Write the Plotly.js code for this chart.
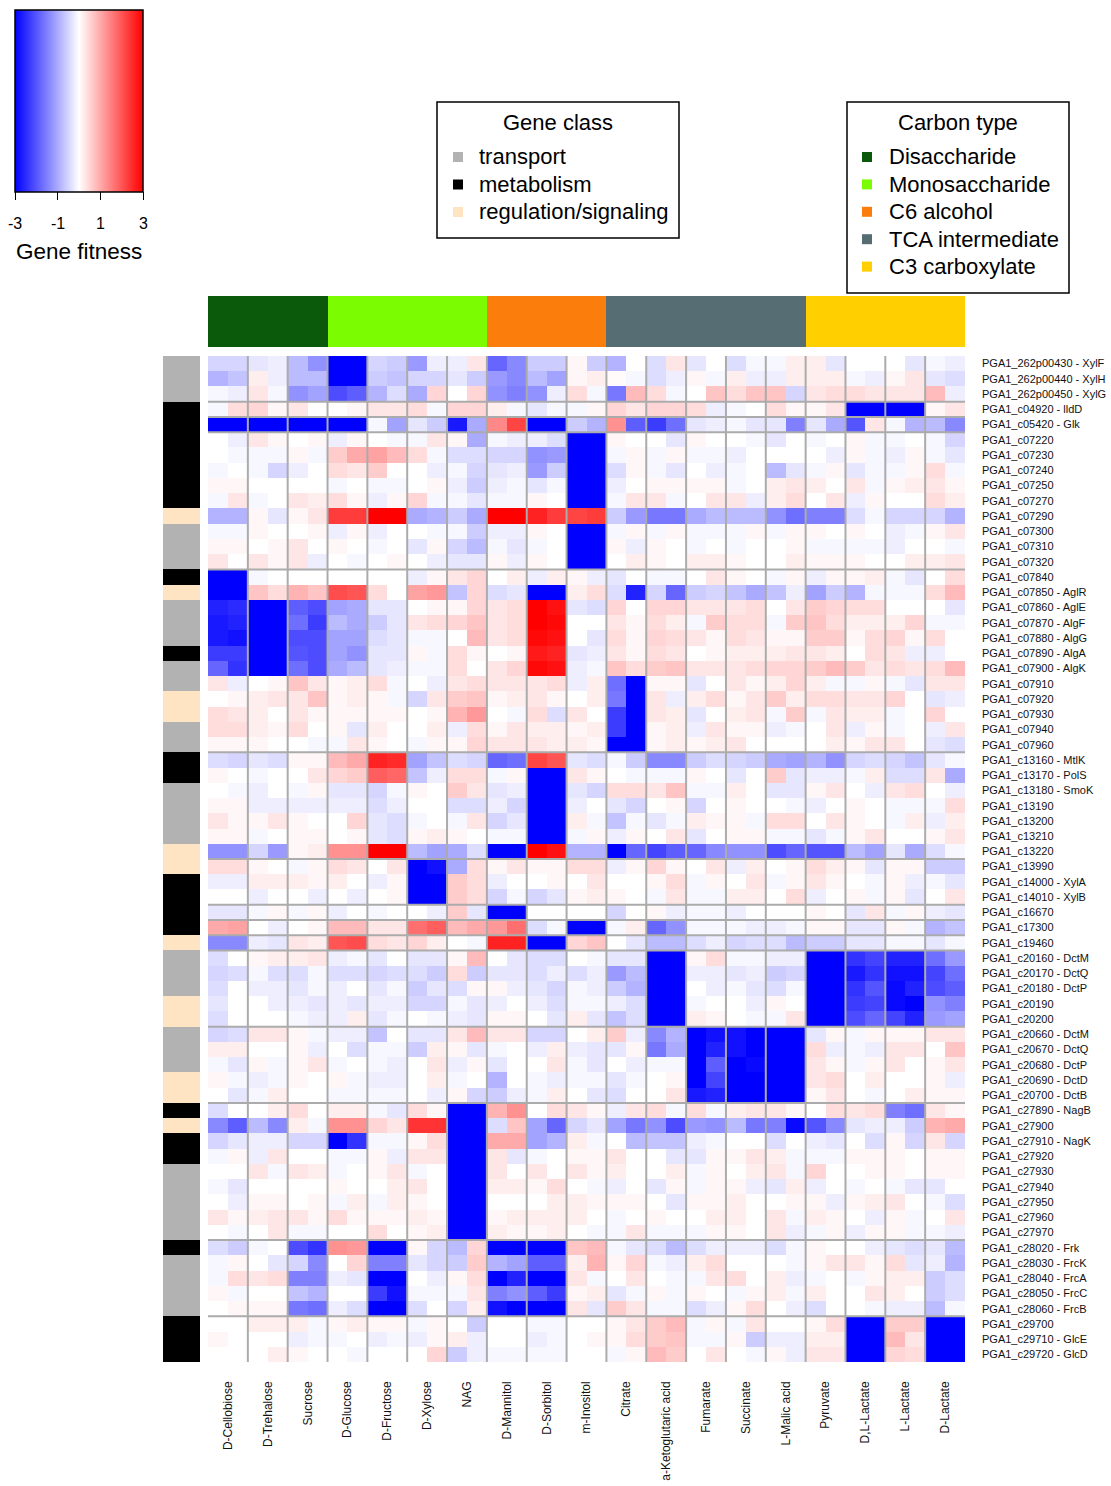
<!DOCTYPE html>
<html><head><meta charset="utf-8">
<script src="https://cdn.plot.ly/plotly-3.0.1.min.js"></script>
<style>html,body{margin:0;padding:0;background:#fff}#chart{width:1111px;height:1486px}</style>
</head><body><div id="chart"></div>
<script>
// ---------- DATA ----------
const conditions = ["D-Cellobiose","D-Trehalose","Sucrose","D-Glucose","D-Fructose","D-Xylose","NAG","D-Mannitol","D-Sorbitol","m-Inositol","Citrate","a-Ketoglutaric acid","Fumarate","Succinate","L-Malic acid","Pyruvate","D,L-Lactate","L-Lactate","D-Lactate"];
const carbonTypes = ["Disaccharide","Monosaccharide","C6 alcohol","TCA intermediate","C3 carboxylate"];
const carbonTypeColors = ["#0b5a0b","#7cfc00","#fb7d0c","#566e73","#ffcf00"];
const conditionCarbonType = ["Disaccharide","Disaccharide","Disaccharide","Monosaccharide","Monosaccharide","Monosaccharide","Monosaccharide","C6 alcohol","C6 alcohol","C6 alcohol","TCA intermediate","TCA intermediate","TCA intermediate","TCA intermediate","TCA intermediate","C3 carboxylate","C3 carboxylate","C3 carboxylate","C3 carboxylate"];
const geneClasses = ["transport","metabolism","regulation/signaling"];
const geneClassColors = ["#b2b2b2","#000000","#ffe4c4"];
const fitnessTicks = [-3, -1, 1, 3];
const genes = ["PGA1_262p00430 - XylF","PGA1_262p00440 - XylH","PGA1_262p00450 - XylG","PGA1_c04920 - lldD","PGA1_c05420 - Glk","PGA1_c07220","PGA1_c07230","PGA1_c07240","PGA1_c07250","PGA1_c07270","PGA1_c07290","PGA1_c07300","PGA1_c07310","PGA1_c07320","PGA1_c07840","PGA1_c07850 - AglR","PGA1_c07860 - AglE","PGA1_c07870 - AlgF","PGA1_c07880 - AlgG","PGA1_c07890 - AlgA","PGA1_c07900 - AlgK","PGA1_c07910","PGA1_c07920","PGA1_c07930","PGA1_c07940","PGA1_c07960","PGA1_c13160 - MtlK","PGA1_c13170 - PolS","PGA1_c13180 - SmoK","PGA1_c13190","PGA1_c13200","PGA1_c13210","PGA1_c13220","PGA1_c13990","PGA1_c14000 - XylA","PGA1_c14010 - XylB","PGA1_c16670","PGA1_c17300","PGA1_c19460","PGA1_c20160 - DctM","PGA1_c20170 - DctQ","PGA1_c20180 - DctP","PGA1_c20190","PGA1_c20200","PGA1_c20660 - DctM","PGA1_c20670 - DctQ","PGA1_c20680 - DctP","PGA1_c20690 - DctD","PGA1_c20700 - DctB","PGA1_c27890 - NagB","PGA1_c27900","PGA1_c27910 - NagK","PGA1_c27920","PGA1_c27930","PGA1_c27940","PGA1_c27950","PGA1_c27960","PGA1_c27970","PGA1_c28020 - Frk","PGA1_c28030 - FrcK","PGA1_c28040 - FrcA","PGA1_c28050 - FrcC","PGA1_c28060 - FrcB","PGA1_c29700","PGA1_c29710 - GlcE","PGA1_c29720 - GlcD"];
const T="transport", M="metabolism", R="regulation/signaling";
const geneClass = [T,T,T,M,M,M,M,M,M,M,R,T,T,T,M,R,T,T,T,M,T,T,R,R,T,T,M,M,T,T,T,T,R,R,M,M,M,M,R,T,T,T,R,R,T,T,T,R,R,M,R,M,M,T,T,T,T,T,M,T,T,T,T,M,M,M];
// rows after which a cluster separator is drawn (1-based)
const clusterBreaks = [3,4,5,14,26,33,36,37,38,39,44,49,58,63];
// gene fitness: one row per gene, two replicates per condition (38 values)
const fitness = [
[-0.5,-0.5,-0.3,-0.2,-0.8,-1.3,-3,-3,-0.5,-0.6,-1.2,-0.2,-0.2,0.3,-1.8,-1.4,-0.6,-0.6,0.1,-0.6,-0.9,0,-0.4,0.3,-0.3,0,-0.4,-0.1,-0.1,0.2,0.2,-0.3,0,0,0,-0.3,-0.1,-0.2],
[-0.9,-0.7,0.2,-0.2,-0.8,-0.8,-3,-3,-0.6,-0.7,-0.5,-0.5,-0.3,-0.6,-1.2,-1.4,-0.8,-1.1,0.1,0.2,0.05,-0.1,-0.4,-0.2,0.1,-0.1,0.2,-0.2,-0.2,0.2,0.2,0.2,-0.1,-0.2,0.1,0.3,-0.3,-0.4],
[-0.1,-0.2,0.3,-0.1,-1.3,-1.1,-2.1,-1.9,-0.9,-0.4,-1.0,0.5,0,0.5,-1.3,-1.5,-1.3,-0.2,0.4,-0.1,-1.6,0.8,0.4,-0.1,0,0.7,0.4,0.7,0.7,-0.5,0.3,0.4,0.4,0.3,0.3,0.3,0.8,-0.2],
[-0.1,0.4,0.5,0.1,0.3,0,0,0.1,0.3,0.3,0.4,-0.1,0.5,0.5,0.2,-0.1,-0.3,-0.1,-0.1,0.1,0.5,0.3,0.5,0.5,0.4,-0.2,-0.1,0,0.4,0.1,0.1,0.3,-3,-3,-3,-3,0.1,0.3],
[-3,-3,-3,-3,-3,-3,-3,-3,-0.1,-1.1,-0.3,-0.6,-2.7,-1.0,1.4,2.2,-3,-3,-0.6,-0.9,1.3,-1.9,-2.3,-1.7,-0.3,-0.2,-0.1,-0.3,-0.3,-1.5,-0.3,-1.0,-2.0,0.3,-0.1,-0.9,-0.8,-1.4],
[0,-0.2,0.3,0.1,0,0.1,-0.2,0.1,0,-0.1,-0.1,0.3,0.1,-1.0,-0.1,-0.2,-0.2,-0.4,-3,-3,0.1,0,0,-0.3,0.1,0,0,-0.1,-0.3,0,-0.1,0,0.1,-0.1,-0.1,0,-0.1,-0.5],
[0,-0.1,-0.1,-0.1,0.1,-0.1,0.6,1.0,1.1,0.8,0.4,-0.1,-0.4,-0.4,-0.5,-0.5,-1.3,-1.2,-3,-3,-0.1,0.1,-0.1,0.1,-0.1,-0.1,-0.2,0,0,0,0,-0.2,0.1,-0.1,-0.2,0.1,-0.1,-0.3],
[-0.1,0,-0.1,-0.5,-0.2,0,0.4,0.3,0.6,0,0,-0.2,-0.1,-0.5,-0.3,-0.2,-1.2,-0.6,-3,-3,-0.4,0.1,-0.1,-0.3,0,-0.2,-0.1,0,-0.8,-0.3,-0.1,0.1,-0.3,-0.1,-0.1,0.1,0.4,-0.1],
[0.1,0.1,0,0,0,0,-0.1,0,-0.1,-0.1,0,0.1,-0.2,-0.6,-0.2,-0.1,-0.3,-0.1,-3,-3,-0.2,0,0.1,0.1,0.1,0.1,-0.1,0,0.2,0.3,0.2,0,0.3,-0.1,0.1,0.2,0.3,0.1],
[-0.1,0.3,-0.1,0,0.3,0.2,0.4,0.1,-0.2,0.1,0.5,-0.1,-0.1,-0.3,-0.1,-0.1,0.1,0,-3,-3,-0.1,0.3,0.3,-0.1,0,0.3,0.3,-0.2,0.2,0.4,0,0.3,-0.2,0.1,0,0,0.4,0.2],
[-0.9,-0.9,0.1,-0.3,0.1,0.3,2.3,2.3,3,3,-1.0,-0.9,-0.6,-1.0,3,3,2.6,2.3,2.2,2.3,-0.6,-1.2,-1.6,-1.6,-1.0,-0.8,-0.8,-0.8,-1.3,-1.7,-1.5,-1.5,-0.4,-0.1,-0.5,-0.5,-0.5,-0.9],
[-0.1,-0.1,0.1,0,0,0.1,-0.2,0.1,-0.2,0,0,-0.1,-0.1,-0.6,-0.2,-0.2,0.1,0,-3,-3,-0.1,0.1,-0.1,0.1,-0.1,-0.1,-0.1,0.1,-0.1,0.1,0.1,0,0.1,0,-0.2,-0.1,0.1,0.3],
[0.1,0.1,0,0.1,0.3,0,0.1,0,-0.1,0,-0.3,0.1,-0.5,-0.8,-0.1,-0.3,-0.1,0,-3,-3,0.1,-0.2,0.1,0,-0.1,0,-0.1,0,0,0.1,-0.1,-0.1,-0.1,-0.1,-0.2,0,0,-0.1],
[0.3,0,0.3,0.1,0.3,-0.2,0,-0.1,0,0.1,0,-0.2,-0.3,-0.3,0.1,-0.2,0.1,0,-3,-3,0,0.2,0.1,0,0.2,0.2,0.1,0,0,0.2,0.1,0.1,0.1,0,0,0.2,0.2,0.3],
[-3,-3,-0.1,0,0,0,0,0,0,0,-0.2,0.1,0.3,0.5,0,0.2,-0.2,0.2,0.1,-0.2,-0.3,0,-0.1,-0.1,0,0.3,0.1,0,-0.1,0.1,-0.2,0.1,0.1,0.2,-0.1,-0.3,0,0.4],
[-3,-3,0.7,0.4,0.9,0.7,2.1,2.0,0.4,0,1.1,1.2,-0.7,0.5,-0.4,-0.3,-3,-3,0.2,0.4,-0.4,-2.6,-0.5,-1.8,-0.6,-0.5,-0.7,-1.0,-0.7,-0.2,-1.1,-0.6,-0.9,-0.1,-0.1,-0.1,0.4,0.8],
[-2.6,-2.5,-3,-3,-1.9,-2.1,-1.1,-1.0,-0.3,-0.3,0,0.1,0.1,0.5,0.3,0.4,3,2.8,-0.3,-0.4,0.5,0,0.5,0.5,0.3,0.3,0.3,0.4,0,0.3,0.6,0.5,0.4,0.4,0,0,0,-0.3],
[-2.7,-2.6,-3,-3,-1.7,-2.3,-0.8,-1.0,-0.6,-0.3,0.3,0.4,0.5,0.7,0.3,0.4,3,2.9,0,0,0.3,0.1,0.4,0.2,-0.1,0.6,0.4,0.4,-0.1,0.6,0.7,0.4,0.2,0.2,0.2,0.5,-0.1,-0.1],
[-2.7,-2.8,-3,-3,-2.1,-2.1,-1.1,-1.1,-0.4,-0.3,-0.1,-0.1,0,0.8,0.3,0.4,2.9,2.8,0,-0.3,0.4,0.1,0.5,0.4,0.3,0.1,0.4,0.3,0.1,0.1,0.6,0.6,0.1,0.4,0.5,0.1,0.4,0],
[-2.3,-2.3,-3,-3,-2.0,-2.1,-1.1,-1.3,-0.3,-0.3,0.1,-0.1,0.4,0.1,0,0.1,2.7,2.6,-0.3,-0.2,0.3,0.1,0.4,0.3,0,0.1,0.2,0.2,0.2,0.3,0.3,0.2,0,0.4,0.3,-0.2,-0.2,0],
[-1.8,-2.4,-3,-3,-1.7,-2.1,-1.0,-0.8,-0.3,-0.2,-0.1,-0.1,0.4,0,0.3,0.5,2.9,2.8,-0.2,-0.1,0.7,0.4,0.6,0.7,0.3,0.3,0.3,0.4,0.5,0.5,0.6,0.8,0.6,0.3,0.4,0.3,0.4,0.8],
[0.3,-0.2,0,0.1,0.7,0.3,0.1,0.2,0.4,-0.1,0,-0.2,0.3,0.4,0.3,0.3,0.3,0.4,-0.2,0.2,-1.7,-3,0.1,0.1,-0.3,0,0.3,0.1,0.2,0.5,0.2,-0.1,-0.1,0.1,-0.1,-0.3,0.3,0.3],
[0,0.1,0.2,0.3,0.3,0.7,0.1,0.2,0.1,-0.1,-0.5,0.3,0.6,0.7,0.1,0.2,0.3,0.1,0,0.2,-1.6,-3,0.3,-0.2,0.2,0.4,0.1,0.3,0.6,0.2,0.4,0.4,0.3,0.3,0.5,0,-0.3,-0.2],
[0.4,0.3,0.2,0,0.3,0.1,0.1,0.1,0.1,0.1,0,0.1,0.9,1.2,0,-0.1,0.4,-0.4,0.3,0,-2.3,-3,0.3,0.2,-0.3,0,0.2,0.3,-0.1,0.6,-0.1,0.3,0.2,0.2,-0.1,0,0.5,0],
[0.4,0.4,0.2,0.1,0.4,0,0.1,-0.3,0.2,0,0,0.2,-0.2,0.4,0.1,0.3,0.2,0.2,0.1,0.2,-2.3,-3,0.1,0.2,-0.2,0.3,0.1,0.1,-0.2,-0.1,0,0.3,-0.2,0.1,-0.1,0,-0.2,0.3],
[0.1,0.1,0.1,0,0,-0.1,-0.1,0.3,0.1,0,-0.1,0.1,0.1,0.5,0.3,0.3,0.3,0.2,0.2,0.1,-3,-3,0.1,0.2,0.1,0.2,0.3,0,0,0,0,0.2,0.1,0.3,0.3,0,-0.3,-0.4],
[-0.4,-0.5,-0.3,-0.4,0.1,0.1,0.8,1.0,2.6,2.5,-1.1,-0.7,-0.4,-0.5,-1.8,-1.7,2.2,2.0,-0.3,-0.4,-0.1,-0.6,-1.4,-1.4,-0.6,-0.4,-0.5,-0.6,-1.0,-1.1,-0.9,-1.3,-0.5,-0.4,-0.5,-0.7,-0.3,-0.1],
[0.1,0,-0.1,0,0,0.3,0.5,0.6,1.9,1.8,-0.7,-0.2,0.4,0.4,-0.1,0.1,-3,-3,0.3,0.1,0,-0.1,-0.1,-0.1,0.1,0,-0.3,0,0.6,-0.3,-0.2,-0.2,-0.1,0.2,-0.4,-0.4,0.3,-1.0],
[0,-0.1,-0.2,0,-0.1,0.1,-0.3,-0.3,-0.5,-0.1,0.1,0,0.6,0.3,-0.3,-0.2,-3,-3,-0.3,-0.5,0.4,0.4,0.3,0.7,-0.1,-0.1,0.2,0,-0.3,-0.3,0.1,0.3,0,-0.2,0.3,0.4,0,-0.2],
[0.1,0.1,-0.2,-0.2,-0.2,-0.2,-0.2,-0.2,-0.4,-0.2,0,0,-0.4,-0.4,-0.2,-0.5,-3,-3,-0.2,0,-0.3,-0.5,0,0.1,-0.5,0,0.1,0,0,-0.1,-0.2,0,0.1,0,-0.1,-0.1,-0.1,0.4],
[0.3,0.1,0.1,0.3,0.1,0,0,0.5,-0.3,-0.4,-0.1,0,-0.1,0.3,-0.5,-0.3,-3,-3,0.2,-0.1,-0.7,-0.1,-0.3,-0.1,0.2,0.1,0.1,-0.1,0.4,0.4,0,0.3,0.1,0,-0.1,0.2,-0.2,0.2],
[0.1,0.1,-0.1,0,0.1,0.1,0,0.1,-0.3,-0.4,0.1,0.2,0.1,0,-0.1,-0.1,-3,-3,-0.1,0.1,-0.2,0.1,0,0.3,-0.3,0,0.1,0.1,-0.1,-0.1,-0.3,-0.1,0.1,0.3,0,0,0.1,0.3],
[-1.3,-1.3,-0.5,-1.2,0.1,0.2,1.3,1.3,3,3,-0.8,-1.1,-1.0,-0.4,-3,-3,3,2.8,-0.9,-0.9,-3,-1.8,-2.2,-1.9,-1.8,-1.4,-1.3,-1.3,-2.1,-1.8,-2.0,-2.0,-0.8,-1.1,-0.3,-1.0,-0.4,-0.1],
[0.4,0.4,0.1,0,-0.1,0.1,0.4,0.3,0,0.3,-3,-2.8,-1.0,0.4,0.1,0.3,0.1,0.1,0.4,0.4,-0.2,0.1,0.5,0.1,0,0.3,-0.2,0.2,0,0.1,0.4,0.2,0.1,-0.3,0.1,0.1,-0.6,-0.6],
[-0.2,-0.2,0.2,0.2,0.2,0.1,0.2,0,-0.2,0.1,-3,-3,0.6,0.4,-0.2,0,0,0.1,0,0.3,0,0,0.1,0.4,-0.1,0.1,0,0.3,-0.1,0.1,0.3,0.1,0,-0.1,0.1,-0.2,-0.1,-0.3],
[0,0,-0.2,0,0,-0.2,0,-0.2,0,0.1,-3,-3,0.6,0.4,-0.5,-0.1,-0.5,-0.3,0.1,0.2,0.1,0,-0.1,0.3,-0.1,-0.1,0.2,0.2,0,0.4,-0.2,0,0.1,-0.1,0.1,-0.3,0,0.3],
[-0.3,-0.3,-0.1,0.1,-0.1,0.1,-0.2,0,-0.1,0,0,-0.2,0.6,-0.3,-3,-3,0,0,0,0,-0.5,0,0.1,-0.2,-0.1,-0.1,-0.2,0,0,0,0.1,0,-0.3,0.3,-0.1,0.1,-0.2,-0.3],
[1.0,1.1,0,-0.2,0,0.1,0.8,0.8,0.3,0.3,1.7,1.9,0.8,1.0,1.2,1.7,-0.4,-0.1,-3,-3,-0.1,0.2,-1.8,-1.3,-0.1,-0.1,-0.1,-0.2,-0.2,-0.1,0.1,0.1,-0.3,-0.3,0.1,-0.1,-0.9,-0.7],
[-1.4,-1.4,-0.2,-0.3,0.3,0.2,2.0,2.1,0.4,0.3,0.5,0.2,0,-0.1,2.6,2.6,-3,-3,0.5,0.7,0,-0.3,-0.8,-0.8,-0.4,-0.2,-0.5,-0.4,-0.4,-0.8,-0.6,-0.6,-0.3,-0.3,-0.1,-0.1,-0.3,-0.1],
[-0.4,0,0.1,0.2,0.2,0.3,-0.2,-0.1,-0.3,0,-0.3,-0.3,0.1,0.8,0,-0.3,-0.4,-0.4,0,-0.1,-0.3,-0.3,-3,-3,0.1,0.4,-0.1,-0.1,-0.2,-0.2,-3,-3,-2.4,-2.2,-2.6,-2.6,-1.7,-1.2],
[-0.5,-0.4,-0.1,-0.4,-0.4,-0.1,-0.4,-0.4,-0.5,-0.4,-0.4,-0.6,0.4,-0.6,-0.3,-0.3,-0.4,-0.2,-0.4,-0.2,-1.2,-0.8,-3,-3,-0.2,-0.2,-0.3,-0.2,-0.6,-0.5,-3,-3,-2.7,-2.4,-2.8,-2.8,-2.2,-1.7],
[-0.4,0,-0.2,-0.2,-0.3,-0.1,-0.2,0,-0.3,-0.1,-0.6,-0.3,-0.4,0.1,0.1,-0.2,-0.3,-0.5,-0.1,-0.2,-0.6,-0.9,-3,-3,0,-0.2,-0.1,-0.3,-0.4,-0.1,-3,-3,-2.4,-2.0,-2.9,-2.6,-2.1,-1.9],
[-0.3,0,0,-0.2,-0.2,-0.3,-0.2,-0.3,-0.2,-0.2,-0.5,-0.5,-0.1,-0.3,-0.2,0,-0.2,-0.4,-0.1,-0.1,-0.2,-0.4,-3,-3,-0.1,0,0,-0.2,0.1,0,-3,-3,-2.3,-2.2,-2.9,-3,-1.3,-1.5],
[-0.4,0,0,0,-0.1,-0.2,-0.2,0.2,-0.3,-0.1,0,-0.1,-0.2,-0.3,0.1,0.1,0,-0.3,0.2,-0.3,-0.7,-0.4,-3,-3,0.2,0.1,0,-0.1,-0.1,0.3,-3,-3,-2.1,-1.8,-2.2,-2.6,-1.2,-1.1],
[-0.5,-0.4,0.3,0.3,0.1,-0.1,-0.2,-0.2,-0.7,0,-0.3,-0.3,0.3,0.8,0.3,0.3,-0.5,-0.5,0,0.2,0.6,-0.2,-1.4,-0.9,-3,-2.8,-2.8,-3,-3,-3,-0.3,0.1,-0.1,0.1,0.1,0.1,0.3,0.3],
[0.2,0.2,0,0,0.1,-0.2,0,-0.4,-0.1,-0.1,-0.6,0.2,0.1,-0.3,-0.1,0,-0.2,0.2,-0.2,-0.3,-0.3,0.1,-1.6,-1.0,-3,-2.6,-2.8,-3,-3,-3,0.4,-0.2,-0.1,-0.2,0.3,0.3,0,0.7],
[-0.1,-0.3,0.1,-0.1,0.1,0.3,-0.1,0,-0.1,-0.2,0,0.3,-0.2,0.1,-0.3,0,0,0.3,-0.1,-0.3,0,-0.2,-0.1,-0.1,-3,-1.9,-3,-2.9,-3,-3,0.3,0.1,-0.1,0.1,0.3,0,0.1,0.3],
[0.1,-0.1,-0.2,-0.1,0.1,0,0.1,-0.1,-0.2,-0.2,0,0.2,-0.1,0,-0.9,0,-0.1,-0.2,-0.1,-0.1,-0.3,-0.1,0,0.1,-3,-2.2,-3,-3,-3,-3,0.3,0.4,0,0.2,0,0,0.1,-0.2],
[0,-0.3,-0.1,0.2,0,0,-0.1,-0.1,-0.1,-0.1,0,-0.2,0.1,-0.5,-0.6,-0.2,-0.1,0.2,0,-0.3,-0.4,0,0,0.3,-2.7,-2.6,-3,-3,-3,-3,0.1,0.3,0,-0.1,0,0.2,0.1,0.1],
[-0.4,0,0,0.2,0.4,0,0.2,0.2,-0.1,-0.3,0.4,0.1,-3,-3,0.9,1.3,0,0.4,0.3,0.1,-0.2,0.3,0.4,-0.1,0.4,-0.1,0.2,0.3,0.3,0.1,0,0.4,0.3,0.4,-1.5,-1.7,0.3,0.1],
[-1.4,-1.9,-0.8,-1.4,0.2,-0.1,1.3,1.3,0.5,0.3,2.4,2.4,-3,-3,-0.4,0.7,-1.1,-1.8,-0.5,-0.3,-1.1,-1.6,-1.3,-2.1,-1.2,-1.3,-0.8,-1.6,-1.5,-2.9,-2.0,-1.4,-0.3,-0.2,-0.2,-0.6,0.9,1.0],
[-0.5,-0.3,-0.2,-0.2,-0.5,-0.5,-3,-2.4,-0.1,-0.1,0.1,0.4,-3,-3,1.0,1.0,-1.1,-0.9,0.2,-0.1,0,-0.8,-0.7,-0.7,-0.2,-0.1,0,0,-0.4,0,-0.2,-0.3,0,-0.4,0.1,-0.5,0.3,-0.5],
[-0.1,0.1,-0.2,0.3,0,0,-0.1,-0.1,0.1,-0.2,0.3,0.3,-3,-3,0.3,-0.3,-0.1,0,0.1,0.1,0.3,0,0,-0.3,-0.3,0.1,0.1,0.3,0.2,-0.1,-0.1,-0.1,0.1,0.1,0.1,0,0.1,0.1],
[0,0,0.3,-0.1,0.3,0.2,-0.1,0,0.1,0.3,-0.1,0,-3,-3,0.3,0,0.3,0,0.3,0.1,0.2,0,0,0.2,-0.1,0.1,0,0.2,0.3,-0.1,0.5,0,0,0.1,0.1,0,0.1,0.1],
[-0.1,-0.3,0,0,0,0,0.1,0,0,0.2,0.3,0,-3,-3,0.2,0.2,0.1,0.4,0,-0.1,-0.2,0,-0.3,0.1,-0.1,0.1,0.1,-0.2,-0.3,0.2,-0.2,0,-0.1,0,-0.1,-0.3,-0.3,0],
[0,-0.2,0.1,0.1,0,0.1,-0.1,0.2,-0.1,0.2,0.1,0,-3,-3,0,0,0,0.2,0.2,0.1,0.1,0.1,0,-0.3,0.1,0.1,0.2,0,0,0.1,0.1,-0.2,0.1,0.2,0.3,0,-0.1,-0.4],
[0.3,0.1,0.2,0.3,0.3,0.1,0.4,0.1,0.1,0.1,0.2,0.1,-3,-3,0.1,0.2,0.2,0.2,0.2,0,-0.1,0,0.1,0,0,0.2,0.2,0,0.3,-0.1,0.2,0.1,0,-0.2,0.1,-0.1,0,0.3],
[0,-0.1,0,0.3,-0.1,-0.1,0,0,0.4,0,0.1,0.2,-3,-3,0.2,0.1,0.1,0.2,0,-0.1,-0.1,0.3,-0.1,-0.1,-0.1,0.1,0.1,0,0.3,-0.2,-0.1,0.1,-0.2,0.1,0.1,-0.1,-0.1,-0.2],
[-0.4,-0.6,-0.1,0,-2.1,-2.4,1.3,1.2,-3,-3,0.1,-0.5,-0.8,0.5,-3,-3,-3,-3,0.7,0.8,-0.1,-0.3,-0.4,-0.8,-0.4,-0.2,-0.2,-0.2,-0.4,-0.1,0.1,0,0,-0.2,-0.3,-0.4,-0.3,-0.8],
[-0.1,0.1,0,-0.3,-0.5,-1.4,0,0.5,-1.5,-1.5,-0.3,-0.5,-0.6,0.6,-0.9,-1.1,-1.9,-1.9,0.2,0.9,0.1,0.5,-0.1,-0.2,0.2,0.4,0,0,0,-0.1,0.1,0.3,0.3,0.1,0.4,-0.3,-0.2,-0.9],
[-0.1,0.4,0.3,0.4,-1.5,-1.5,-0.2,-0.3,-3,-3,0,-0.2,0.1,0.4,-3,-2.6,-3,-3,0.3,-0.1,0,0.3,0,-0.1,-0.1,0.3,0.4,0,0.2,-0.2,-0.1,0,-0.1,0.1,0.2,0.2,-0.6,-0.4],
[0.1,-0.1,0,0,-0.7,-0.9,0,0,-2.3,-2.8,-0.1,-0.1,-0.1,0.3,-1.5,-1.3,-1.9,-2.3,0.1,0.2,-0.3,-0.1,0.1,-0.1,0.1,0,-0.1,0.1,0.2,-0.1,0.2,0,0,0.3,0.2,0,-0.6,-0.4],
[0,0.1,0.1,0.1,-1.6,-1.7,-0.2,-0.4,-3,-3,-0.4,0,-0.5,0.2,-2.8,-3,-3,-3,0.3,-0.3,0.6,0.3,-0.1,-0.1,-0.4,-0.2,0.1,0.4,0,-0.2,-0.4,0,0,-0.1,-0.2,-0.2,-0.8,-0.1],
[0,0,0.2,0.2,0.2,-0.1,0.1,0.2,0.1,0.1,-0.1,0.1,0,-0.6,0,0,-0.1,-0.1,0,0,0.1,0.3,0.6,0.8,-0.1,0.1,-0.1,0.3,0,0,0.1,0.4,-3,-3,0.6,0.6,-3,-3],
[0.1,0,0,0,-0.2,-0.1,-0.1,0,-0.2,-0.1,-0.2,0.1,0.2,-0.2,0,0,-0.2,-0.1,0,0.1,0.1,0.4,0.6,0.7,-0.1,-0.1,0.1,-0.6,-0.2,-0.2,0.2,0.2,-3,-3,0.8,0.3,-3,-3],
[0,0,0,0.2,0.1,0,0,-0.1,0,0,0,0.5,-0.6,-0.2,-0.1,-0.1,-0.1,-0.1,0,0,-0.1,0.1,0.8,0.6,0,0.3,0,-0.1,0.1,-0.2,0.3,0.3,-3,-3,0.5,0.4,-3,-3]
];

// ---------- LAYOUT HELPERS ----------
const W = 1111, H = 1486;
const px = x => x / W, py = y => 1 - y / H;
const FONT = "Liberation Sans, Arial, Helvetica, sans-serif";
const nRep = fitness[0].length / conditions.length;
const nRows = genes.length, nCols = fitness[0].length;
const ZMIN = -3, ZMAX = 3;
const KEY = { x0: 15, x1: 143, y0: 10, y1: 192 };

const fitScale = [[0, "#0000ff"], [0.5, "#ffffff"], [1, "#ff0000"]];
function discreteScale(colors) {
  const n = colors.length, s = [];
  colors.forEach((c, i) => { s.push([i / n, c]); s.push([(i + 1) / n, c]); });
  return s;
}

const traces = [];
traces.push({
  type: "heatmap", z: fitness, xaxis: "x", yaxis: "y",
  zmin: ZMIN, zmax: ZMAX, colorscale: fitScale, hoverinfo: "skip",
  colorbar: {
    orientation: "h", xref: "container", yref: "container",
    x: px((KEY.x0 + KEY.x1) / 2), xanchor: "center", y: py(KEY.y0), yanchor: "top",
    lenmode: "pixels", len: KEY.x1 - KEY.x0, thicknessmode: "pixels", thickness: KEY.y1 - KEY.y0,
    xpad: 0, ypad: 0, outlinecolor: "#000", outlinewidth: 1.5,
    ticks: "outside", ticklen: 8, tickcolor: "#000", tickwidth: 1,
    tickvals: fitnessTicks, showticklabels: false,
    title: { text: "" }
  }
});
// gene class side bar
traces.push({
  type: "heatmap", xaxis: "x2", yaxis: "y",
  z: geneClass.map(g => [geneClasses.indexOf(g)]),
  zmin: -0.5, zmax: geneClasses.length - 0.5,
  colorscale: discreteScale(geneClassColors), showscale: false, hoverinfo: "skip"
});
// carbon type top bar
traces.push({
  type: "heatmap", xaxis: "x3", yaxis: "y3",
  z: [conditionCarbonType.map(c => carbonTypes.indexOf(c))],
  zmin: -0.5, zmax: carbonTypes.length - 0.5,
  colorscale: discreteScale(carbonTypeColors), showscale: false, hoverinfo: "skip"
});

// ---------- SHAPES & ANNOTATIONS ----------
const shapes = [], annotations = [];
const sepColor = "#ababab";
for (let k = 1; k < conditions.length; k++) {
  shapes.push({ type: "line", xref: "x", yref: "y", x0: k * nRep - 0.5, x1: k * nRep - 0.5,
    y0: -0.5, y1: nRows - 0.5, line: { color: sepColor, width: 2 }, layer: "above" });
}
clusterBreaks.forEach(r => {
  shapes.push({ type: "line", xref: "x", yref: "y", x0: -0.5, x1: nCols - 0.5,
    y0: r - 0.5, y1: r - 0.5, line: { color: sepColor, width: 2 }, layer: "above" });
});

// colour key tick labels and title
fitnessTicks.forEach(v => {
  const xpix = KEY.x0 + (v - ZMIN) / (ZMAX - ZMIN) * (KEY.x1 - KEY.x0);
  annotations.push({ xref: "paper", yref: "paper", x: px(xpix), y: py(224), text: String(v),
    showarrow: false, xanchor: "center", yanchor: "middle",
    font: { family: FONT, size: 16, color: "#000" } });
});
annotations.push({ xref: "paper", yref: "paper", x: px((KEY.x0 + KEY.x1) / 2), y: py(251), text: "Gene fitness",
  showarrow: false, xanchor: "center", yanchor: "middle", font: { family: FONT, size: 22.5, color: "#000" } });

function addLegend(title, names, colors, box, markerX, textX, firstY, step) {
  shapes.push({ type: "rect", xref: "paper", yref: "paper", x0: px(box[0]), x1: px(box[1]),
    y0: py(box[3]), y1: py(box[2]), line: { color: "#000", width: 1.5 }, fillcolor: "rgba(0,0,0,0)" });
  annotations.push({ xref: "paper", yref: "paper", x: px((box[0] + box[1]) / 2), y: py(box[2] + 20),
    text: title, showarrow: false, xanchor: "center", yanchor: "middle",
    font: { family: FONT, size: 22, color: "#000" } });
  names.forEach((n, i) => {
    const yc = firstY + i * step;
    shapes.push({ type: "rect", xref: "paper", yref: "paper", x0: px(markerX), x1: px(markerX + 10),
      y0: py(yc + 5), y1: py(yc - 5), line: { width: 0 }, fillcolor: colors[i] });
    annotations.push({ xref: "paper", yref: "paper", x: px(textX), y: py(yc), text: n,
      showarrow: false, xanchor: "left", yanchor: "middle",
      font: { family: FONT, size: 22, color: "#000" } });
  });
}
addLegend("Gene class", geneClasses, geneClassColors, [437, 679, 102, 238], 453, 477, 157, 27.5);
addLegend("Carbon type", carbonTypes, carbonTypeColors, [847, 1069, 102, 293], 862, 887, 157, 27.4);

const layout = {
  width: W, height: H, margin: { l: 0, r: 0, t: 0, b: 0, autoexpand: false },
  paper_bgcolor: "#fff", plot_bgcolor: "#fff", showlegend: false,
  font: { family: FONT, color: "#000" },
  xaxis: {
    domain: [px(208), px(965)], range: [-0.5, nCols - 0.5], anchor: "y",
    tickvals: conditions.map((c, i) => i * nRep + (nRep - 1) / 2), ticktext: conditions,
    tickangle: -90, ticks: "", ticklabelstandoff: 16, tickfont: { family: FONT, size: 12, color: "#111" },
    showgrid: false, zeroline: false, showline: false, fixedrange: true, automargin: false
  },
  yaxis: {
    domain: [py(1362), py(356)], range: [nRows - 0.5, -0.5], anchor: "x", side: "right",
    tickvals: genes.map((g, i) => i), ticktext: genes, ticks: "", ticklabelstandoff: 16,
    tickfont: { family: FONT, size: 11, color: "#111" },
    showgrid: false, zeroline: false, showline: false, fixedrange: true, automargin: false
  },
  xaxis2: { domain: [px(163), px(200)], range: [-0.5, 0.5], anchor: "y", visible: false, fixedrange: true },
  xaxis3: { domain: [px(208), px(965)], range: [-0.5, conditions.length - 0.5], anchor: "y3", visible: false, fixedrange: true },
  yaxis3: { domain: [py(347), py(296)], range: [-0.5, 0.5], anchor: "x3", visible: false, fixedrange: true },
  shapes: shapes, annotations: annotations
};

Plotly.newPlot("chart", traces, layout, { staticPlot: true, displayModeBar: false });
</script></body></html>
